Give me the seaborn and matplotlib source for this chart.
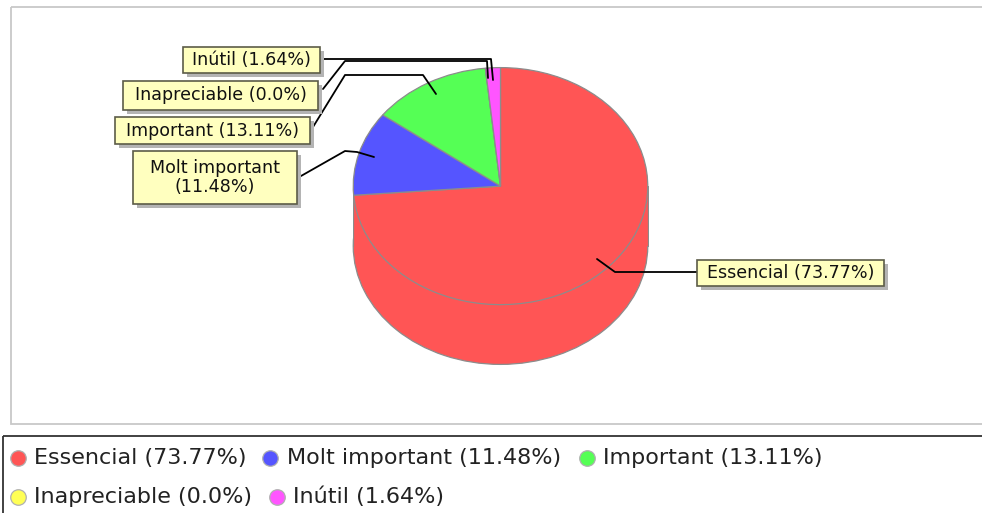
"""3D-style pie chart with callout labels and a two-row legend."""

import matplotlib

matplotlib.use("Agg")
import matplotlib.pyplot as plt
import seaborn as sns
from matplotlib.patches import Rectangle

categories = ["Essencial", "Molt important", "Important", "Inapreciable", "Inútil"]
values = [73.77, 11.48, 13.11, 0.0, 1.64]
colors = ["#FF5555", "#5555FF", "#55FF55", "#FFFF55", "#FF55FF"]

WIDTH, HEIGHT = 982, 513
EDGE = "#8c8c8c"
BOX_FILL = "#FFFFBF"
BOX_EDGE = "#5c5c48"


def label_for(index):
    return f"{categories[index]} ({values[index]}%)"


sns.set_theme(style="white")
plt.rcParams["font.family"] = ["DejaVu Sans"]

fig = plt.figure(figsize=(WIDTH / 100, HEIGHT / 100), dpi=100, facecolor="white")

# overlay working in pixel coordinates, for frames, callouts and legend
canvas = fig.add_axes([0, 0, 1, 1], zorder=1)
canvas.set_xlim(0, WIDTH)
canvas.set_ylim(HEIGHT, 0)
canvas.axis("off")
canvas.patch.set_alpha(0)

# plot frame and legend frame run off the right edge
canvas.add_patch(Rectangle((11, 7), 1000, 417, fill=False, ec="#c8c8c8", lw=1.3))
canvas.add_patch(Rectangle((3, 436), 1000, 120, fill=False, ec="#333333", lw=1.3))

# pie axes stretched to an ellipse: 148 px wide radius, 119 px tall radius
cx, cy, rx, ry, depth = 500.5, 186, 148, 119, 60
pie_ax = fig.add_axes(
    [(cx - rx) / WIDTH, 1 - (cy + ry + depth) / HEIGHT, 2 * rx / WIDTH, (2 * ry + depth) / HEIGHT],
    zorder=0,
)
drop = depth / ry

# side wall: the Essencial colour shows all round the front of the pie
pie_ax.pie([1], colors=[colors[0]], center=(0, -drop), wedgeprops={"edgecolor": EDGE, "linewidth": 0.9})
pie_ax.add_patch(Rectangle((-1, -drop), 2, drop, fc=colors[0], ec="none", zorder=2))
for side_x in (-1, 1):
    pie_ax.plot([side_x, side_x], [0, -drop], color=EDGE, lw=0.9, zorder=2)
wedges, _ = pie_ax.pie(
    values,
    colors=colors,
    startangle=90,
    counterclock=False,
    wedgeprops={"edgecolor": EDGE, "linewidth": 0.9},
)
for wedge in wedges:
    wedge.set_zorder(3)
pie_ax.set_aspect("auto")
pie_ax.set_xlim(-1.005, 1.005)
pie_ax.set_ylim(-1 - drop - 0.005, 1.005)

# callouts: index, box (x, y, w, h), leader line
callouts = [
    (4, (183, 47, 137, 26), [(322, 59), (491, 59), (493, 80)]),
    (3, (123, 81, 195, 29), [(323, 89), (345, 61), (487, 61), (488, 78)]),
    (2, (115, 117, 195, 27), [(313, 127), (345, 75), (423, 75), (436, 94)]),
    (1, (133, 151, 164, 53), [(301, 176), (345, 151), (357, 152), (374, 157)]),
    (0, (697, 260, 187, 26), [(697, 272), (615, 272), (597, 259)]),
]
for index, (x, y, w, h), path in callouts:
    canvas.plot([p[0] for p in path], [p[1] for p in path], color="black", lw=1.3, zorder=2)
    canvas.add_patch(Rectangle((x + 4, y + 4), w, h, fc="#b4b4b4", ec="none", zorder=3))
    canvas.add_patch(Rectangle((x, y), w, h, fc=BOX_FILL, ec=BOX_EDGE, lw=1.2, zorder=4))
    text = label_for(index)
    if index == 1:
        text = f"{categories[index]}\n({values[index]}%)"
    canvas.text(
        x + w / 2, y + h / 2, text, ha="center", va="center", ma="center",
        fontsize=12.6, color="#111111", linespacing=1.05, zorder=5,
    )

# legend rows: index, marker x, text x, row y
legend_rows = [
    (0, 18, 34, 458),
    (1, 270, 287, 458),
    (2, 587, 603, 458),
    (3, 18, 34, 497),
    (4, 277, 293, 497),
]
for index, marker_x, text_x, row_y in legend_rows:
    canvas.scatter(marker_x, row_y, s=125, color=colors[index], edgecolor="#b0b0b0", linewidth=0.9)
    canvas.text(text_x, row_y, label_for(index), ha="left", va="center", fontsize=16, color="#222222")

fig.savefig("out.png", dpi=100)
plt.close(fig)
